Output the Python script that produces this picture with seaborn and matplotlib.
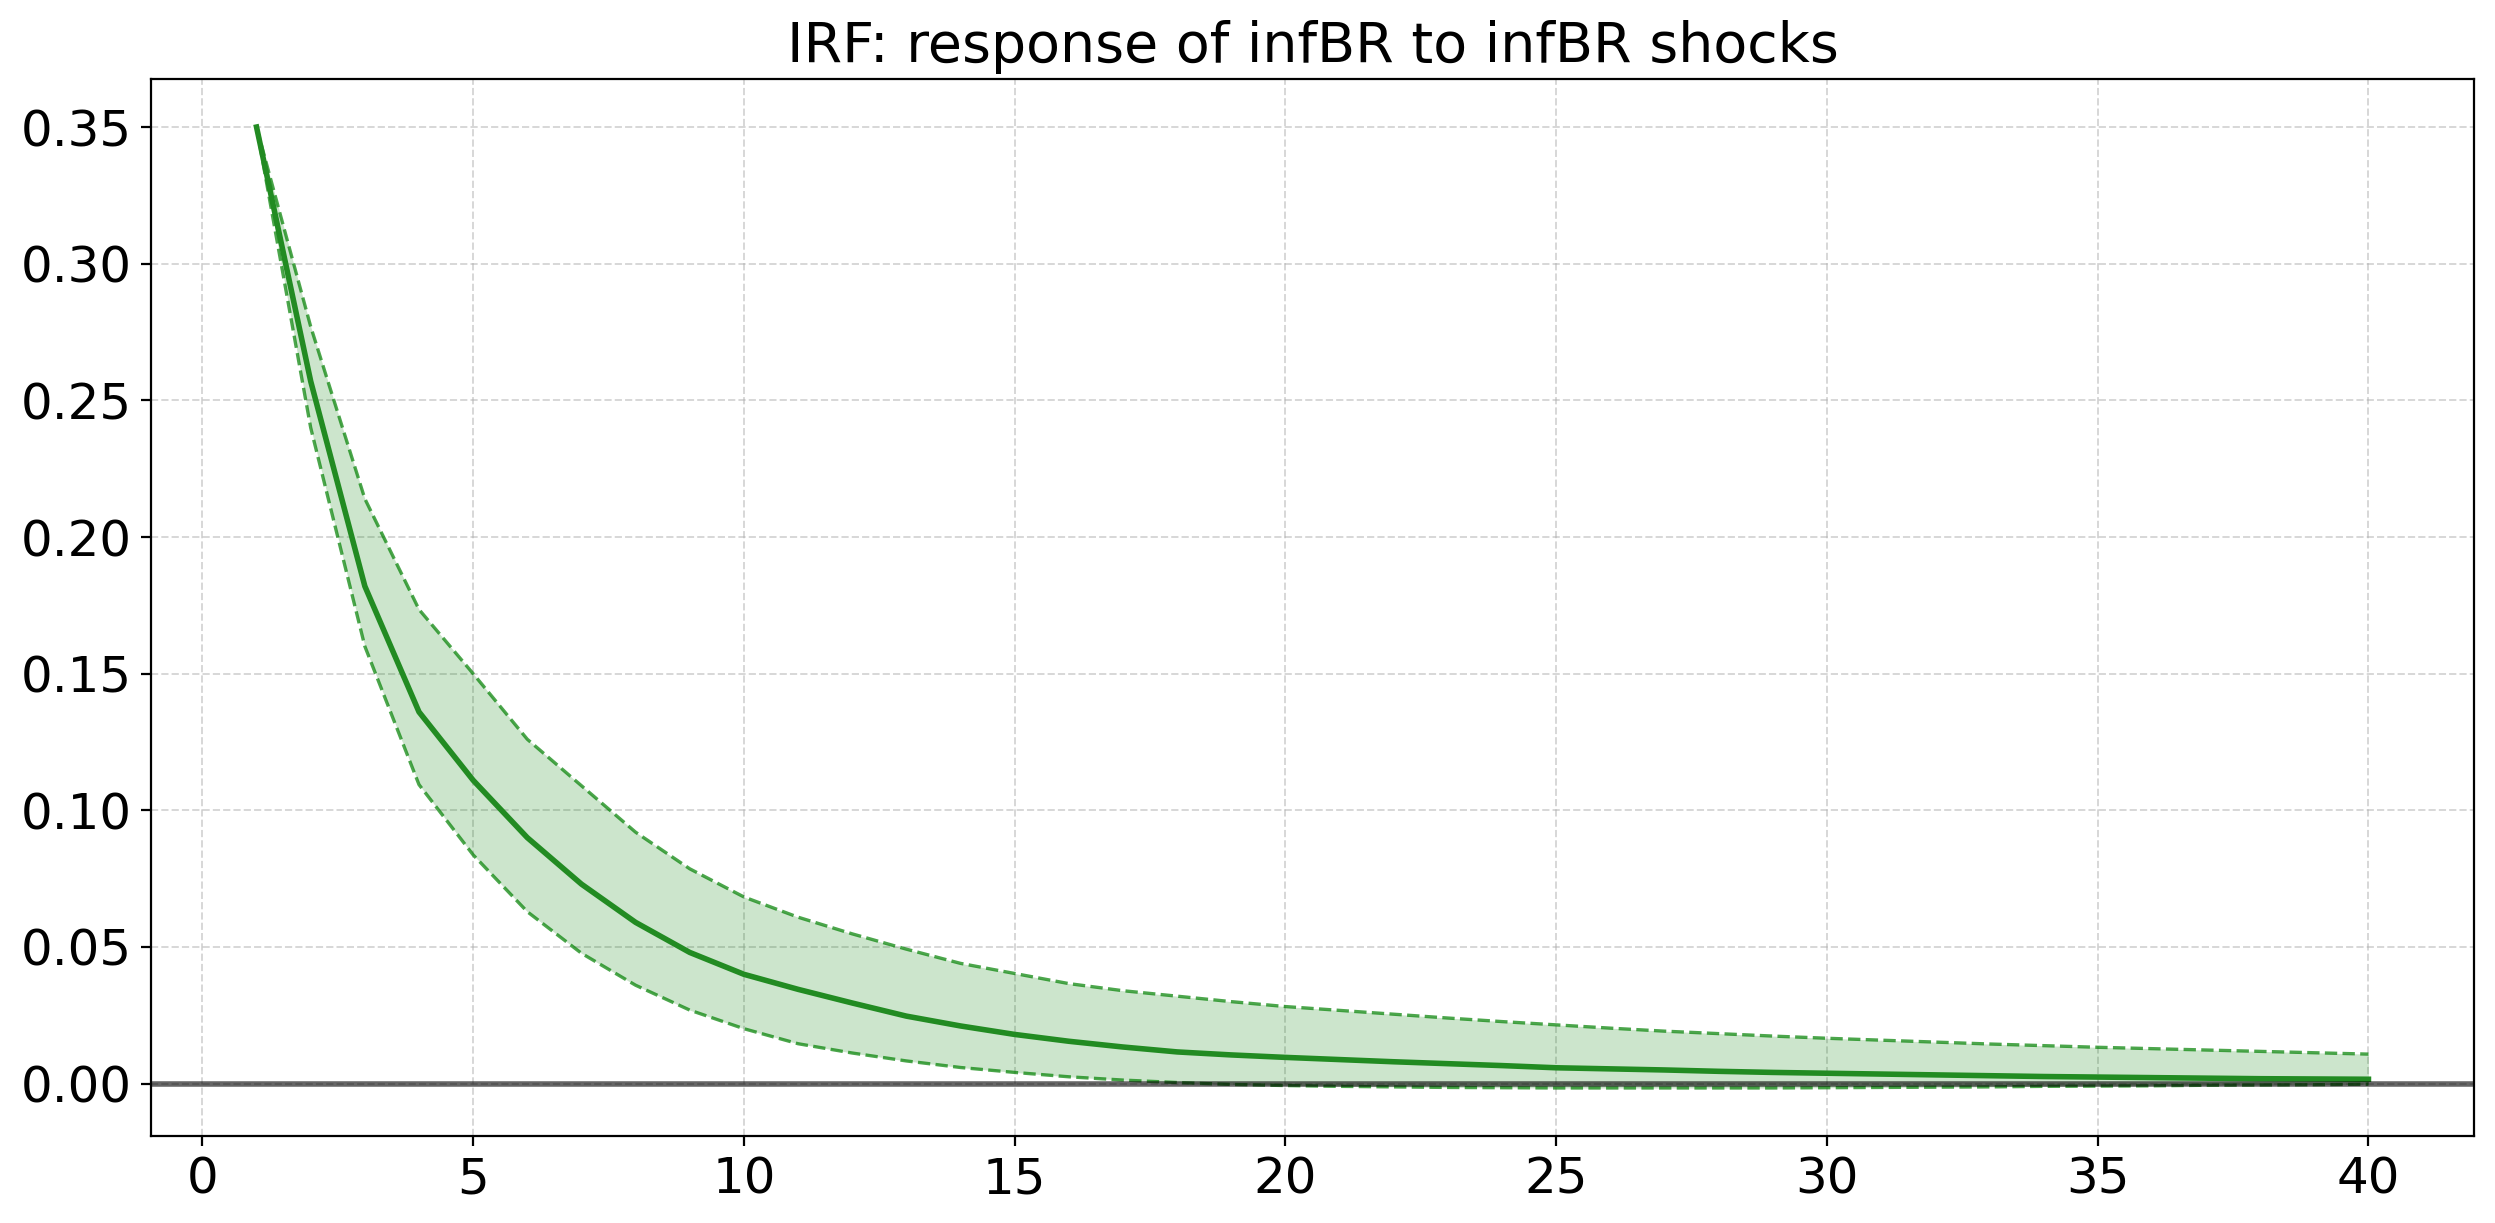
import matplotlib
matplotlib.use("Agg")
import matplotlib.pyplot as plt
import seaborn as sns
import numpy as np
import pandas as pd

# ---- data ----
horizon = list(range(1, 41))
irf_median = [0.350, 0.257, 0.182, 0.136, 0.111, 0.090, 0.073, 0.059, 0.048, 0.040,
              0.0345, 0.0295, 0.0247, 0.0211, 0.0180, 0.0155, 0.0134, 0.0116, 0.0105, 0.0096,
              0.0088, 0.0080, 0.0073, 0.0066, 0.0058, 0.0054, 0.0050, 0.0045, 0.0041, 0.0038,
              0.0035, 0.0032, 0.0029, 0.0026, 0.0024, 0.0022, 0.0020, 0.0018, 0.0017, 0.0016]
irf_upper = [0.350, 0.277, 0.214, 0.1735, 0.150, 0.126, 0.109, 0.092, 0.0786, 0.0683,
             0.0609, 0.0548, 0.0492, 0.0440, 0.0403, 0.0366, 0.0340, 0.0320, 0.0300, 0.0282,
             0.0268, 0.0254, 0.0240, 0.0227, 0.0215, 0.0203, 0.0192, 0.0183, 0.0174, 0.0166,
             0.0159, 0.0152, 0.0145, 0.0139, 0.0133, 0.0128, 0.0123, 0.0118, 0.0113, 0.0108]
irf_lower = [0.350, 0.240, 0.160, 0.1094, 0.0837, 0.0629, 0.0477, 0.0360, 0.0269, 0.0201,
             0.0146, 0.0112, 0.0083, 0.0059, 0.0041, 0.0025, 0.0013, 0.0004, -0.0003, -0.0007,
             -0.0010, -0.0012, -0.0014, -0.0015, -0.0016, -0.0016, -0.0016, -0.0016, -0.0016, -0.0015,
             -0.0014, -0.0013, -0.0012, -0.0010, -0.0009, -0.0008, -0.0006, -0.0005, -0.0004, -0.0002]
title_text = "IRF: response of infBR to infBR shocks"

df = pd.DataFrame({"h": horizon, "median": irf_median,
                   "upper": irf_upper, "lower": irf_lower})

fig = plt.figure(figsize=(12.475, 6.115), dpi=200)
ax = fig.add_axes([0.0605, 0.0711, 0.9916 - 0.0605, 0.9354 - 0.0711])

ax.grid(True, linestyle="--", alpha=0.5, linewidth=0.7)
ax.set_axisbelow(True)

ax.fill_between(df["h"], df["lower"], df["upper"], color="green", alpha=0.2, linewidth=0)
sns.lineplot(data=df, x="h", y="upper", ax=ax, color="green", alpha=0.7,
             linewidth=1.2, linestyle="--")
sns.lineplot(data=df, x="h", y="lower", ax=ax, color="green", alpha=0.7,
             linewidth=1.2, linestyle="--")
sns.lineplot(data=df, x="h", y="median", ax=ax, color="forestgreen", linewidth=2.0)
ax.axhline(0, color="black", alpha=0.6, linewidth=2.0)

ax.set_title(title_text, fontsize=20)
ax.set_xlabel("")
ax.set_ylabel("")
ax.tick_params(axis="both", labelsize=18)
ax.set_xticks([0, 5, 10, 15, 20, 25, 30, 35, 40])
ax.set_yticks([0.00, 0.05, 0.10, 0.15, 0.20, 0.25, 0.30, 0.35])
ax.yaxis.set_major_formatter(matplotlib.ticker.FormatStrFormatter("%.2f"))

fig.savefig("out.png", dpi=200)
